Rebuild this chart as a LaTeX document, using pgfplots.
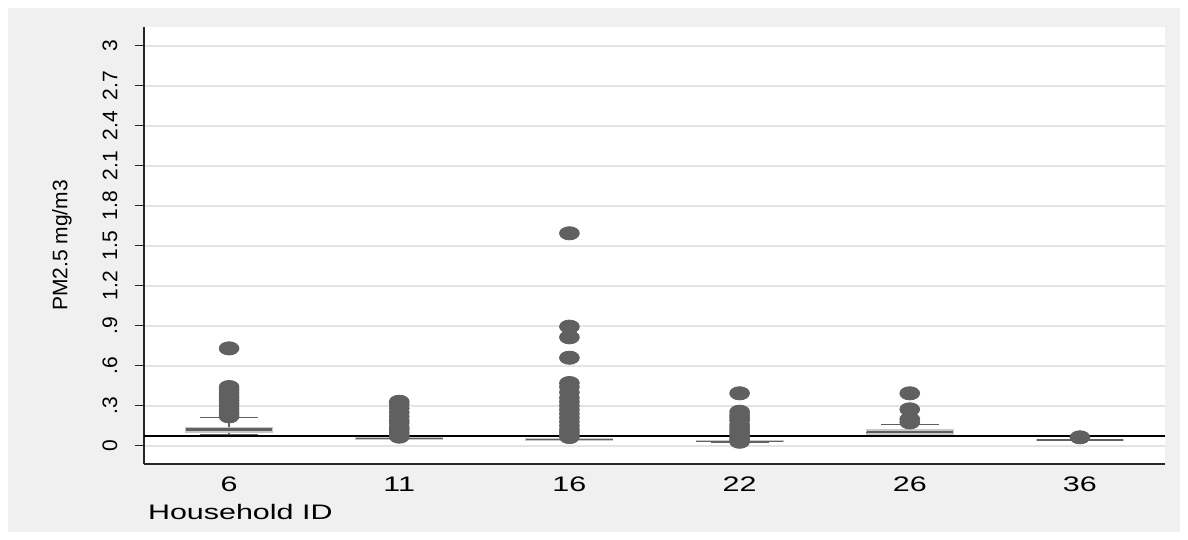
\documentclass[border=0pt]{standalone}
\usepackage{fontspec}
\setmainfont{Liberation Sans}
\newfontfamily\widefont[FakeStretch=1.45]{Liberation Sans}
\usepackage{pgfplots}
\usepgfplotslibrary{statistics}
\pgfplotsset{compat=1.18}
\definecolor{bg}{RGB}{240,240,240}
\definecolor{dk}{RGB}{96,96,96}
\definecolor{gl}{RGB}{228,228,228}
\definecolor{lt}{RGB}{200,200,200}
\begin{document}
\begin{tikzpicture}
\fill[white] (-72pt,-38pt) rectangle (522pt,232pt);
\fill[bg] (-68pt,-34pt) rectangle (518pt,228pt);
\begin{axis}[
  scale only axis, width=510.5pt, height=218.5pt,
  xmin=0, xmax=6, ymin=-0.137, ymax=3.14,
  axis x line*=bottom, axis y line*=left,
  axis line style={draw=black!85, line width=0.7pt},
  axis background/.style={fill=white},
  xtick={0.5,1.5,2.5,3.5,4.5,5.5},
  xticklabels={6,11,16,22,26,36},
  x tick style={draw=none},
  ytick={0,0.3,0.6,0.9,1.2,1.5,1.8,2.1,2.4,2.7,3},
  yticklabels={0,.3,.6,.9,1.2,1.5,1.8,2.1,2.4,2.7,3},
  y tick style={draw=black!85, line width=0.5pt},
  tick align=outside, major tick length=4.5pt,
  ymajorgrids, major grid style={draw=gl, line width=0.9pt},
  yticklabel style={font=\fontsize{10.5}{12}\selectfont, rotate=90, anchor=center},
  yticklabel shift=12.5pt,
  xticklabel style={font=\widefont\fontsize{10.5}{12}\selectfont, anchor=base, yshift=-9.5pt},
  xlabel={Household ID},
  xlabel style={font=\widefont\fontsize{10.5}{12}\selectfont, at={(axis description cs:0,0)}, anchor=base west, xshift=-1.5pt, yshift=-28pt},
  ylabel={PM2.5 mg/m3},
  ylabel style={font=\fontsize{10.5}{12}\selectfont, at={(axis description cs:-0.0803,0.5)}, anchor=center, rotate=0},
  boxplot/draw direction=y,
  boxplot/box extend=0.51,
  boxplot/whisker extend=0.34,
  boxplot/every box/.style={fill=dk, draw=lt, line width=0.6pt},
  boxplot/every median/.style={draw=dk, line width=0.6pt},
  boxplot/every whisker/.style={draw=dk, line width=0.6pt},
  clip=false,
]
\addplot[boxplot prepared={draw position=0.5, lower whisker=0.082, lower quartile=0.103, median=0.12, upper quartile=0.137, upper whisker=0.21}] coordinates {};
\addplot[boxplot prepared={draw position=1.5, lower whisker=0.045, lower quartile=0.049, median=0.055, upper quartile=0.060, upper whisker=0.067}] coordinates {};
\addplot[boxplot prepared={draw position=2.5, lower whisker=0.040, lower quartile=0.043, median=0.046, upper quartile=0.050, upper whisker=0.055}] coordinates {};
\addplot[boxplot prepared={draw position=3.5, lower whisker=0.028, lower quartile=0.030, median=0.032, upper quartile=0.035, upper whisker=0.040}] coordinates {};
\addplot[boxplot prepared={draw position=4.5, lower whisker=0.075, lower quartile=0.088, median=0.100, upper quartile=0.118, upper whisker=0.160}] coordinates {};
\addplot[boxplot prepared={draw position=5.5, lower whisker=0.040, lower quartile=0.041, median=0.043, upper quartile=0.045, upper whisker=0.048}] coordinates {};
\addplot[black, line width=0.75pt] coordinates {(0,0.073) (6,0.073)};
\addplot[only marks, color=dk, mark=*, mark size=3.3pt, mark options={draw=dk, fill=dk, xscale=1.5}] coordinates {
 (0.5,0.73) (0.5,0.44) (0.5,0.42) (0.5,0.40) (0.5,0.38) (0.5,0.36) (0.5,0.34) (0.5,0.32) (0.5,0.30) (0.5,0.28) (0.5,0.26) (0.5,0.24) (0.5,0.22)
 (1.5,0.33) (1.5,0.31) (1.5,0.28) (1.5,0.25) (1.5,0.22) (1.5,0.19) (1.5,0.17) (1.5,0.14) (1.5,0.12) (1.5,0.10) (1.5,0.08) (1.5,0.068)
 (2.5,1.593) (2.5,0.893) (2.5,0.813) (2.5,0.66) (2.5,0.47) (2.5,0.44) (2.5,0.40) (2.5,0.36) (2.5,0.33) (2.5,0.30) (2.5,0.27) (2.5,0.24) (2.5,0.21) (2.5,0.18) (2.5,0.15) (2.5,0.12) (2.5,0.10) (2.5,0.08) (2.5,0.065)
 (3.5,0.393) (3.5,0.255) (3.5,0.23) (3.5,0.21) (3.5,0.19) (3.5,0.16) (3.5,0.14) (3.5,0.12) (3.5,0.10) (3.5,0.08) (3.5,0.06) (3.5,0.045) (3.5,0.03)
 (4.5,0.393) (4.5,0.273) (4.5,0.20) (4.5,0.175)
 (5.5,0.063)
};
\end{axis}
\end{tikzpicture}
\end{document}
